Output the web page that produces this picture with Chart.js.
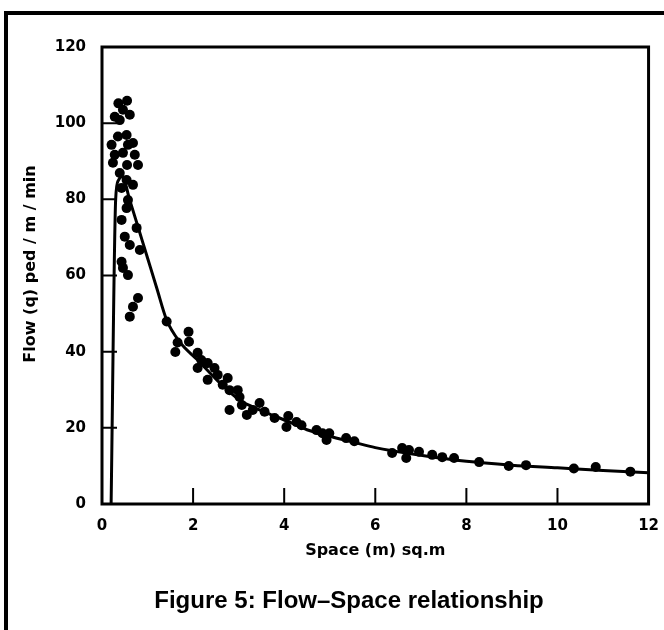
<!DOCTYPE html>
<html lang="en">
<head>
<meta charset="UTF-8" />
<title>Figure 5: Flow-Space relationship</title>
<script src="https://cdn.jsdelivr.net/npm/chart.js"></script>
<style>
  body { margin: 0; background: #fff; }
  #wrap { position: relative; width: 664px; height: 630px; overflow: hidden; background: #fff; }
  #wrap canvas { position: absolute; left: 0; top: 0; }
  .frame-left { position: absolute; left: 4px; top: 11px; width: 4px; height: 619px; background: #000; }
  .frame-top { position: absolute; left: 4px; top: 11px; right: 0; height: 4px; background: #000; }
</style>
</head>
<body>
<div id="wrap">
  <canvas id="chart" width="664" height="630"></canvas>
  <div class="frame-left"></div>
  <div class="frame-top"></div>
</div>
<script>
// observed points: space M (sq.m) and flow q (ped/m/min)
const spaceObs = [
  0.36, 0.55, 0.46, 0.28, 0.61, 0.39, 0.35, 0.54, 0.21, 0.57, 0.68, 0.28, 0.46, 0.72, 0.24, 0.55, 0.79,
  0.39, 0.54, 0.68, 0.43, 0.57, 0.54, 0.43, 0.76, 0.50, 0.61, 0.83, 0.43, 0.46, 0.57, 0.79, 0.68, 0.61,
  1.42, 1.90, 1.91, 1.66, 1.61, 2.10, 2.18, 2.10, 2.32, 2.47, 2.32, 2.54, 2.76, 2.65, 2.80, 2.98, 3.02,
  2.80, 3.07, 3.18, 3.46, 3.31, 3.57, 3.79, 4.09, 4.27, 4.38, 4.05, 4.71, 4.84, 4.99, 4.93, 5.36, 5.54,
  6.37, 6.59, 6.74, 6.68, 6.96, 7.25, 7.47, 7.73, 8.28, 8.93, 9.31, 10.36, 10.84, 11.60
];
const flowObs = [
  105.2, 105.9, 103.5, 101.7, 102.2, 100.8, 96.5, 96.9, 94.3, 94.3, 94.8, 91.7, 92.2, 91.7, 89.6, 89.0, 89.0,
  86.9, 85.1, 83.8, 83.0, 79.8, 77.7, 74.6, 72.5, 70.2, 68.0, 66.7, 63.6, 62.0, 60.1, 54.1, 51.8, 49.2,
  47.9, 45.2, 42.6, 42.4, 39.9, 39.7, 37.8, 35.7, 37.0, 35.7, 32.6, 33.9, 33.1, 31.3, 29.9, 29.9, 28.1,
  24.7, 26.0, 23.4, 26.5, 24.7, 24.2, 22.6, 23.1, 21.5, 20.7, 20.2, 19.4, 18.6, 18.6, 16.8, 17.3, 16.5,
  13.4, 14.7, 14.2, 12.1, 13.7, 12.9, 12.3, 12.1, 11.0, 10.0, 10.2, 9.3, 9.7, 8.5
];

// fitted curve
const curveSpace = [0.2, 0.3, 0.36, 0.45, 0.6, 0.8, 1.0, 1.2, 1.42, 1.71, 2.1, 2.52, 3.02, 3.46, 4.12, 4.5, 5.0, 5.5, 6.0, 7.0, 8.0, 9.0, 10.0, 11.0, 12.0];
const curveFlow = [0, 80, 85, 86, 80.2, 72.4, 64.6, 56.8, 48.3, 42.5, 37.8, 32.6, 27.3, 24.7, 21.5, 19.5, 17.8, 16.3, 14.8, 12.8, 11.2, 10.2, 9.5, 8.8, 8.2];

const xTicks = [0, 2, 4, 6, 8, 10, 12];
const yTicks = [0, 20, 40, 60, 80, 100, 120];

const xTitle = 'Space (m) sq.m';
const yTitle = 'Flow (q) ped / m / min';
const caption = 'Figure 5: Flow\u2013Space relationship';

const tickFont = { family: '"DejaVu Sans", sans-serif', size: 15, weight: 'bold' };

// box round the plot, inward ticks, axis titles and caption
const paperLook = {
  id: 'paperLook',
  afterDraw(chart) {
    const { ctx, chartArea: a, scales: { x, y } } = chart;
    ctx.save();
    ctx.strokeStyle = '#000';
    ctx.lineWidth = 3;
    ctx.strokeRect(a.left, a.top, a.right - a.left, a.bottom - a.top);
    ctx.lineWidth = 2;
    ctx.beginPath();
    xTicks.slice(1, -1).forEach(v => {
      const px = x.getPixelForValue(v);
      ctx.moveTo(px, a.bottom);
      ctx.lineTo(px, a.bottom - 16);
    });
    yTicks.slice(1, -1).forEach(v => {
      const py = y.getPixelForValue(v);
      ctx.moveTo(a.left, py);
      ctx.lineTo(a.left + 15, py);
    });
    ctx.stroke();

    ctx.fillStyle = '#000';
    ctx.textAlign = 'center';
    ctx.textBaseline = 'middle';
    ctx.font = 'bold 16px "DejaVu Sans", sans-serif';
    ctx.fillText(xTitle, (a.left + a.right) / 2, 551);
    ctx.save();
    ctx.translate(31, 264);
    ctx.rotate(-Math.PI / 2);
    ctx.fillText(yTitle, 0, 0);
    ctx.restore();
    ctx.font = 'bold 24px "Liberation Sans", Arial, sans-serif';
    ctx.fillText(caption, 349, 601);
    ctx.restore();
  }
};

new Chart(document.getElementById('chart'), {
  type: 'scatter',
  data: {
    datasets: [
      {
        label: 'observed',
        data: spaceObs.map((m, i) => ({ x: m, y: flowObs[i] })),
        pointRadius: 5,
        pointBackgroundColor: '#000',
        pointBorderWidth: 0,
        showLine: false
      },
      {
        label: 'curve',
        data: curveSpace.map((m, i) => ({ x: m, y: curveFlow[i] })),
        showLine: true,
        pointRadius: 0,
        borderColor: '#000',
        borderWidth: 3,
        cubicInterpolationMode: 'monotone'
      }
    ]
  },
  options: {
    responsive: false,
    animation: false,
    devicePixelRatio: 1,
    layout: { padding: { top: 47, right: 14, left: 0, bottom: 0 } },
    plugins: { legend: { display: false }, tooltip: { enabled: false } },
    scales: {
      x: {
        type: 'linear', min: 0, max: 12,
        ticks: { stepSize: 2, color: '#000', font: tickFont, padding: 5 },
        grid: { display: false },
        border: { display: false },
        afterFit: s => { s.height = 126; }
      },
      y: {
        type: 'linear', min: 0, max: 120,
        ticks: { stepSize: 20, color: '#000', font: tickFont, padding: 8 },
        grid: { display: false },
        border: { display: false },
        afterFit: s => { s.width = 102; }
      }
    }
  },
  plugins: [paperLook]
});
</script>
</body>
</html>
